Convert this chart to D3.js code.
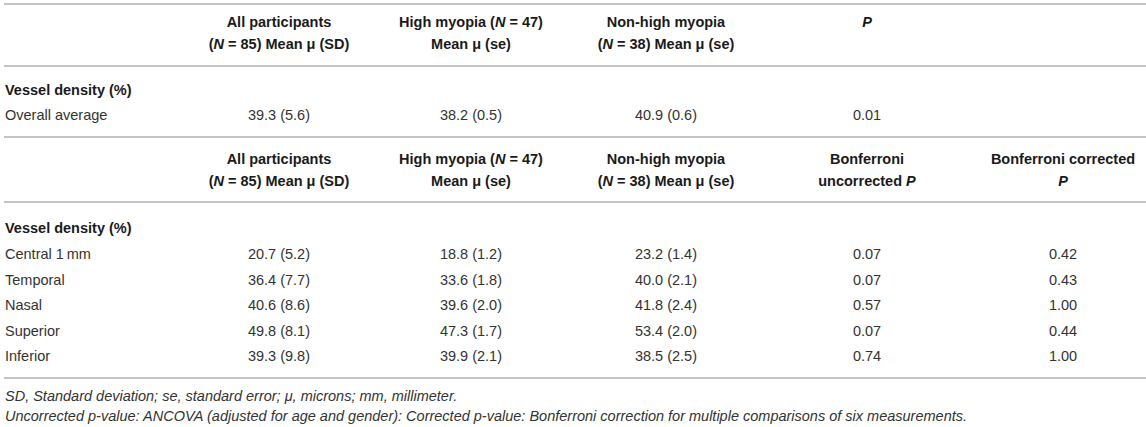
<!DOCTYPE html>
<html><head><meta charset="utf-8">
<script src="https://cdn.jsdelivr.net/npm/d3@7"></script>
<style>
body{margin:0;background:#fff}
text{font-family:"Liberation Sans",Arial,Helvetica,sans-serif;font-size:14.5px}
</style>
</head><body><svg id="t" width="1146" height="427"></svg>
<script>
// ---- data ----
const sectionLabel = "Vessel density (%)";
const overallLabel = ["Overall average"];
const overallAll = [[39.3, 5.6]];
const overallHigh = [[38.2, 0.5]];
const overallNon = [[40.9, 0.6]];
const overallP = [0.01];

const regions = ["Central 1\u2009mm", "Temporal", "Nasal", "Superior", "Inferior"];
const allMean = [20.7, 36.4, 40.6, 49.8, 39.3];
const allSD = [5.2, 7.7, 8.6, 8.1, 9.8];
const highMean = [18.8, 33.6, 39.6, 47.3, 39.9];
const highSE = [1.2, 1.8, 2.0, 1.7, 2.1];
const nonMean = [23.2, 40.0, 41.8, 53.4, 38.5];
const nonSE = [1.4, 2.1, 2.4, 2.0, 2.5];
const pUncorrected = [0.07, 0.07, 0.57, 0.07, 0.74];
const pCorrected = [0.42, 0.43, 1.00, 0.44, 1.00];

// header cells: lines of [text, style] segments ("i" italic, "" normal)
const headerAll = [[["All participants", ""]], [["(", ""], ["N", "i"], [" = 85) Mean \u03bc (SD)", ""]]];
const headerHigh = [[["High myopia (", ""], ["N", "i"], [" = 47)", ""]], [["Mean \u03bc (se)", ""]]];
const headerNon = [[["Non-high myopia", ""]], [["(", ""], ["N", "i"], [" = 38) Mean \u03bc (se)", ""]]];
const headerP = [[["P", "i"]]];
const headerUncorr = [[["Bonferroni", ""]], [["uncorrected ", ""], ["P", "i"]]];
const headerCorr = [[["Bonferroni corrected", ""]], [["P", "i"]]];

const footnotes = [
  "SD, Standard deviation; se, standard error; \u03bc, microns; mm, millimeter.",
  "Uncorrected p-value: ANCOVA (adjusted for age and gender): Corrected p-value: Bonferroni correction for multiple comparisons of six measurements."
];

// ---- layout ----
const svg = d3.select("#t");
const W = 1146;
const cols = ["label", "all", "high", "non", "p1", "p2"];
const colX = d3.scaleOrdinal().domain(cols).range([5, 279, 471, 666, 867, 1063]);

const ruleYs = [4, 66, 137, 202, 378];
const textColor = "#333";
const headColor = "#1a1a1a";

svg.selectAll("line.rule").data(ruleYs).join("line")
  .attr("class", "rule")
  .attr("x1", 4).attr("x2", W)
  .attr("y1", d => d).attr("y2", d => d)
  .attr("stroke", "#b0b0b0").attr("stroke-width", 1.6);

function header(cell, col, yTop) {
  cell.forEach((line, i) => {
    const t = svg.append("text")
      .attr("x", colX(col)).attr("y", yTop + i * 22).attr("dy", "0.35em")
      .attr("text-anchor", "middle").attr("font-weight", "bold")
      .attr("font-size", "15.3px").attr("fill", headColor);
    line.forEach(seg => {
      t.append("tspan").text(seg[0]).attr("font-style", seg[1] === "i" ? "italic" : "normal");
    });
  });
}

function cellText(txt, col, yc, opts = {}) {
  svg.append("text")
    .attr("x", colX(col)).attr("y", yc).attr("dy", "0.35em")
    .attr("text-anchor", col === "label" ? "start" : "middle")
    .attr("font-weight", opts.bold ? "bold" : "normal")
    .attr("font-size", opts.bold ? "15.3px" : null)
    .attr("fill", opts.bold ? headColor : textColor)
    .text(txt);
}

const ms = (m, s) => `${m.toFixed(1)} (${s.toFixed(1)})`;

// section 1
[["all", headerAll], ["high", headerHigh], ["non", headerNon], ["p1", headerP]]
  .forEach(([c, h]) => header(h, c, 22));
cellText(sectionLabel, "label", 90, {bold: true});
const row1Y = d3.scalePoint().domain(overallLabel).range([115, 115]);
overallLabel.forEach((lab, i) => {
  const yc = row1Y(lab);
  cellText(lab, "label", yc);
  cellText(ms(...overallAll[i]), "all", yc);
  cellText(ms(...overallHigh[i]), "high", yc);
  cellText(ms(...overallNon[i]), "non", yc);
  cellText(overallP[i].toFixed(2), "p1", yc);
});

// section 2
[["all", headerAll], ["high", headerHigh], ["non", headerNon], ["p1", headerUncorr], ["p2", headerCorr]]
  .forEach(([c, h]) => header(h, c, 159));
cellText(sectionLabel, "label", 228, {bold: true});
const rowY = d3.scalePoint().domain(regions).range([254, 356]);
regions.forEach((r, i) => {
  const yc = rowY(r);
  cellText(r, "label", yc);
  cellText(ms(allMean[i], allSD[i]), "all", yc);
  cellText(ms(highMean[i], highSE[i]), "high", yc);
  cellText(ms(nonMean[i], nonSE[i]), "non", yc);
  cellText(pUncorrected[i].toFixed(2), "p1", yc);
  cellText(pCorrected[i].toFixed(2), "p2", yc);
});

// footnotes
footnotes.forEach((f, i) => {
  svg.append("text").attr("x", 5).attr("y", 396 + i * 20).attr("dy", "0.35em")
    .attr("font-style", "italic").attr("font-size", "13.5px").attr("fill", textColor).text(f);
});
</script></body></html>
